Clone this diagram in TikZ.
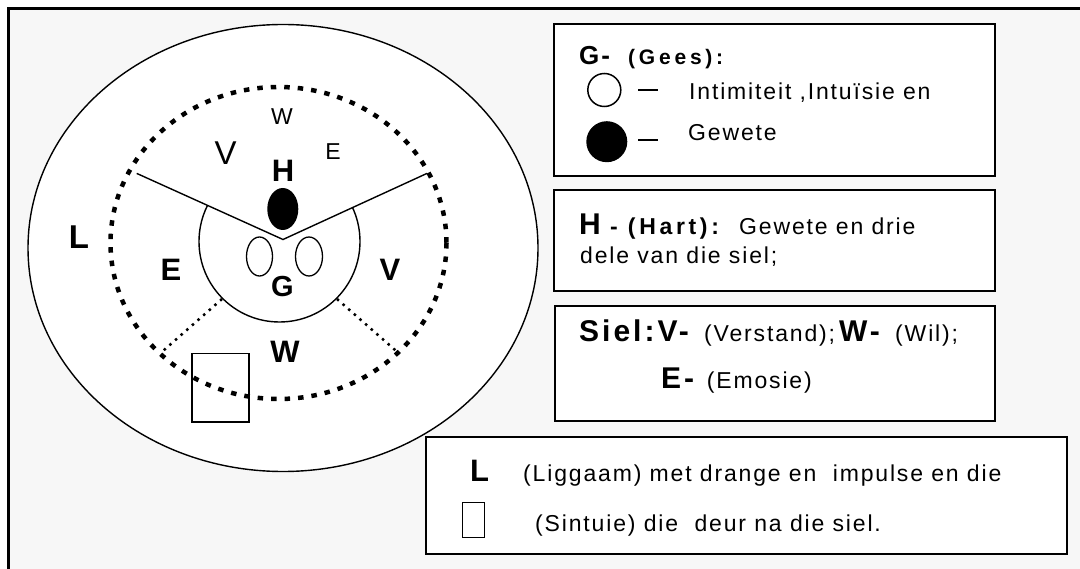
\documentclass[tikz,border=0pt]{standalone}
\usepackage{fontspec}
\setmainfont{Liberation Sans}[LetterSpace=8]
\newfontfamily\labfont{Liberation Sans}
\definecolor{panel}{HTML}{F7F7F7}

\begin{document}
\begin{tikzpicture}[x=1pt,y=-1pt,
  lbl/.style={inner sep=0pt,font=\labfont\bfseries\fontsize{31}{36}\selectfont},
  thinlbl/.style={inner sep=0pt,font=\labfont\fontsize{23}{28}\selectfont},
  txt/.style={anchor=base west,inner sep=0pt,font=\fontsize{23}{27}\selectfont},
  hd/.style={anchor=base west,inner sep=0pt,font=\bfseries\fontsize{30}{34}\selectfont\addfontfeature{LetterSpace=10}},
  sub/.style={anchor=base west,inner sep=0pt,font=\bfseries\fontsize{21}{25}\selectfont\addfontfeature{LetterSpace=18}},
  legbox/.style={draw,fill=white,line width=2pt}]
\useasboundingbox (0,0) rectangle (1080,569);
\fill[white] (0,0) rectangle (1080,569);
\draw[line width=2.3pt,fill=panel] (8.5,8.5) rectangle (1095,590);
% body and soul
\draw[line width=1.4pt,fill=white] (283,248) ellipse [x radius=255,y radius=223.5];
\draw[line width=4.5pt,dash pattern=on 5.5pt off 8pt] (278.5,243) ellipse [x radius=168,y radius=156];
\draw[line width=1.4pt] (136.7,173.4) -- (283,239.5) -- (427,173.4);
\begin{scope}
\clip (136.7,173.4) -- (283,239.5) -- (427,173.4) -- (427,340) -- (136.7,340) -- cycle;
\draw[line width=1.4pt] (279.5,241.5) circle [radius=80.5];
\end{scope}
\draw[line width=2.5pt,dash pattern=on 2.5pt off 5pt] (222,299) -- (161.8,352);
\draw[line width=2.5pt,dash pattern=on 2.5pt off 5pt] (337,299) -- (399.4,353.8);
\fill (282.8,209) ellipse [x radius=15.5,y radius=21];
\draw[line width=1.3pt] (259.5,256.5) ellipse [x radius=13,y radius=19.5];
\draw[line width=1.3pt] (309,256.5) ellipse [x radius=13.5,y radius=19.5];
\draw[line width=1.4pt] (191.8,353.8) rectangle (249,422);
% letters
\node[thinlbl] (wTop) at (282,117) {W};
\node[thinlbl,font=\labfont\fontsize{33}{38}\selectfont] (vTop) at (225.7,153) {V};
\node[thinlbl] (eTop) at (333,151.5) {E};
\node[lbl] (hLbl) at (283,171) {H};
\node[lbl,font=\labfont\bfseries\fontsize{33}{38}\selectfont] (lLbl) at (79,237) {L};
\node[lbl] (eLbl) at (171,270) {E};
\node[lbl] (vLbl) at (390,270) {V};
\node[lbl,font=\labfont\bfseries\fontsize{29}{34}\selectfont] (gLbl) at (282.5,286.5) {G};
\node[lbl] (wLbl) at (285,352) {W};
% begin legend
\draw[legbox] (554,24.5) rectangle (995,176);
\node[hd,font=\bfseries\fontsize{26}{30}\selectfont] (gHead) at (579,65) {G-};
\node[sub] (gSub) at (628,65) {(Gees):};
\draw[line width=1.5pt] (604.3,90) circle [radius=16.5];
\fill (606.8,141.7) circle [radius=20.5];
\draw[line width=2pt] (638,90.3) -- (657.7,90.3);
\draw[line width=2pt] (638,140) -- (657.7,140);
\node[txt] (gTxt1) at (689,100) {Intimiteit ,Intuïsie en};
\node[txt] (gTxt2) at (688,140.7) {Gewete};
\draw[legbox] (554,190.5) rectangle (995,291.5);
\node[hd,font=\bfseries\fontsize{30}{34}\selectfont] (hHead) at (579,235) {H};
\node[sub,font=\bfseries\fontsize{23}{27}\selectfont\addfontfeature{LetterSpace=16}] (hSub) at (610,235) {- (Hart):};
\node[txt] (hTxt1) at (739,235) {Gewete en drie};
\node[txt] (hTxt2) at (580,264) {dele van die siel;};
\draw[legbox] (554.5,306.5) rectangle (995,421.5);
\node[hd] (sHead) at (579,341.7) {Siel:V-};
\node[txt] (sTxt1) at (704,341.7) {(Verstand);};
\node[hd] (sW) at (839,341.7) {W-};
\node[txt] (sTxt2) at (895,341.7) {(Wil);};
\node[hd] (sE) at (661,388.3) {E-};
\node[txt] (sTxt3) at (706.7,388.3) {(Emosie)};
\draw[legbox] (426,437) rectangle (1067,554);
\node[hd,font=\bfseries\fontsize{31}{35}\selectfont] (lHead) at (470,481.7) {L};
\node[txt] (lTxt1) at (523,481.7) {(Liggaam) met drange en\ \ impulse en die};
\draw[line width=1.5pt] (462.3,502.3) rectangle (484.3,537.7);
\node[txt] (lTxt2) at (535,531) {(Sintuie) die\ \ deur na die siel.};
\end{tikzpicture}
\end{document}
